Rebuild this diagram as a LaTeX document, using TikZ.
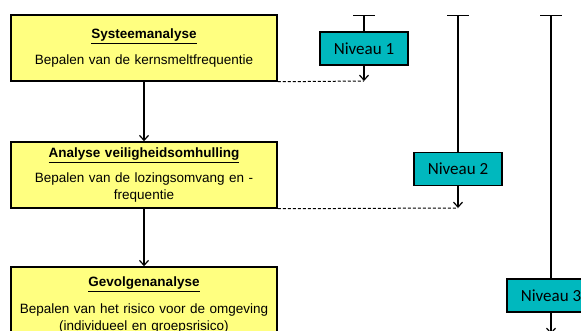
\documentclass[tikz,border=0pt]{standalone}
\usepackage{fontspec}
\setmainfont{Liberation Sans}
\newfontfamily\niveaufont{Carlito}
\usetikzlibrary{arrows.meta,positioning}

\definecolor{stapgeel}{RGB}{255,255,128}
\definecolor{niveaublauw}{RGB}{0,184,190}

\tikzset{
  stap/.style={draw, line width=1.5pt, fill=stapgeel, minimum width=266pt,
    minimum height=66pt, text width=256pt, align=center,
    font=\fontsize{13.5}{16.5}\selectfont},
  niveau/.style={draw, line width=1.5pt, fill=niveaublauw, minimum width=88pt,
    minimum height=33pt, font=\niveaufont\fontsize{17}{20}\selectfont}
}

\newcommand{\kop}[2][9pt]{\textbf{\underline{#2}}\\[#1]}

\begin{document}
\begin{tikzpicture}[x=1pt,y=-1pt,>={Straight Barb[length=5pt,width=9pt]},
    node distance=126pt,on grid, line width=1.2pt]
    \useasboundingbox (0,0) rectangle (581,331);
    \clip (0,0) rectangle (581,331);

    \node[stap] (sys) at (144,48) {\kop{Systeemanalyse}Bepalen van de kernsmeltfrequentie};
    \node[stap] (omh) [below=127pt of sys] {\kop{Analyse veiligheidsomhulling}Bepalen van de lozingsomvang en -\\frequentie};
    \node[stap, minimum height=76pt] (gev) [below=130pt of omh] {\kop[11pt]{Gevolgenanalyse}Bepalen van het risico voor de omgeving\\(individueel en groepsrisico)};

    \node[niveau] (n1) at (364,48.5) {Niveau 1};
    \node[niveau] (n2) at (458,169) {Niveau 2};
    \node[niveau] (n3) at (551,295.5) {Niveau 3};

    \coordinate (t1) at (364,15);
    \coordinate (t2) at (458,15);
    \coordinate (t3) at (551,15);
    \coordinate (e1) at (364,81);
    \coordinate (e2) at (458,208);
    \coordinate (e3) at (551,334);

    \path[->]
    (sys) edge (omh)
    (omh) edge (gev)
    (n1) edge (e1)
    (n2) edge (e2)
    (n3) edge (e3);

    \path[{Bar[width=22pt]}-]
    (t1) edge (n1)
    (t2) edge (n2)
    (t3) edge (n3);

    \path[dashed, line width=1pt, dash pattern=on 3pt off 2pt]
    (sys.south east) edge (e1)
    (omh.south east) edge (e2);
  \end{tikzpicture}
\end{document}
